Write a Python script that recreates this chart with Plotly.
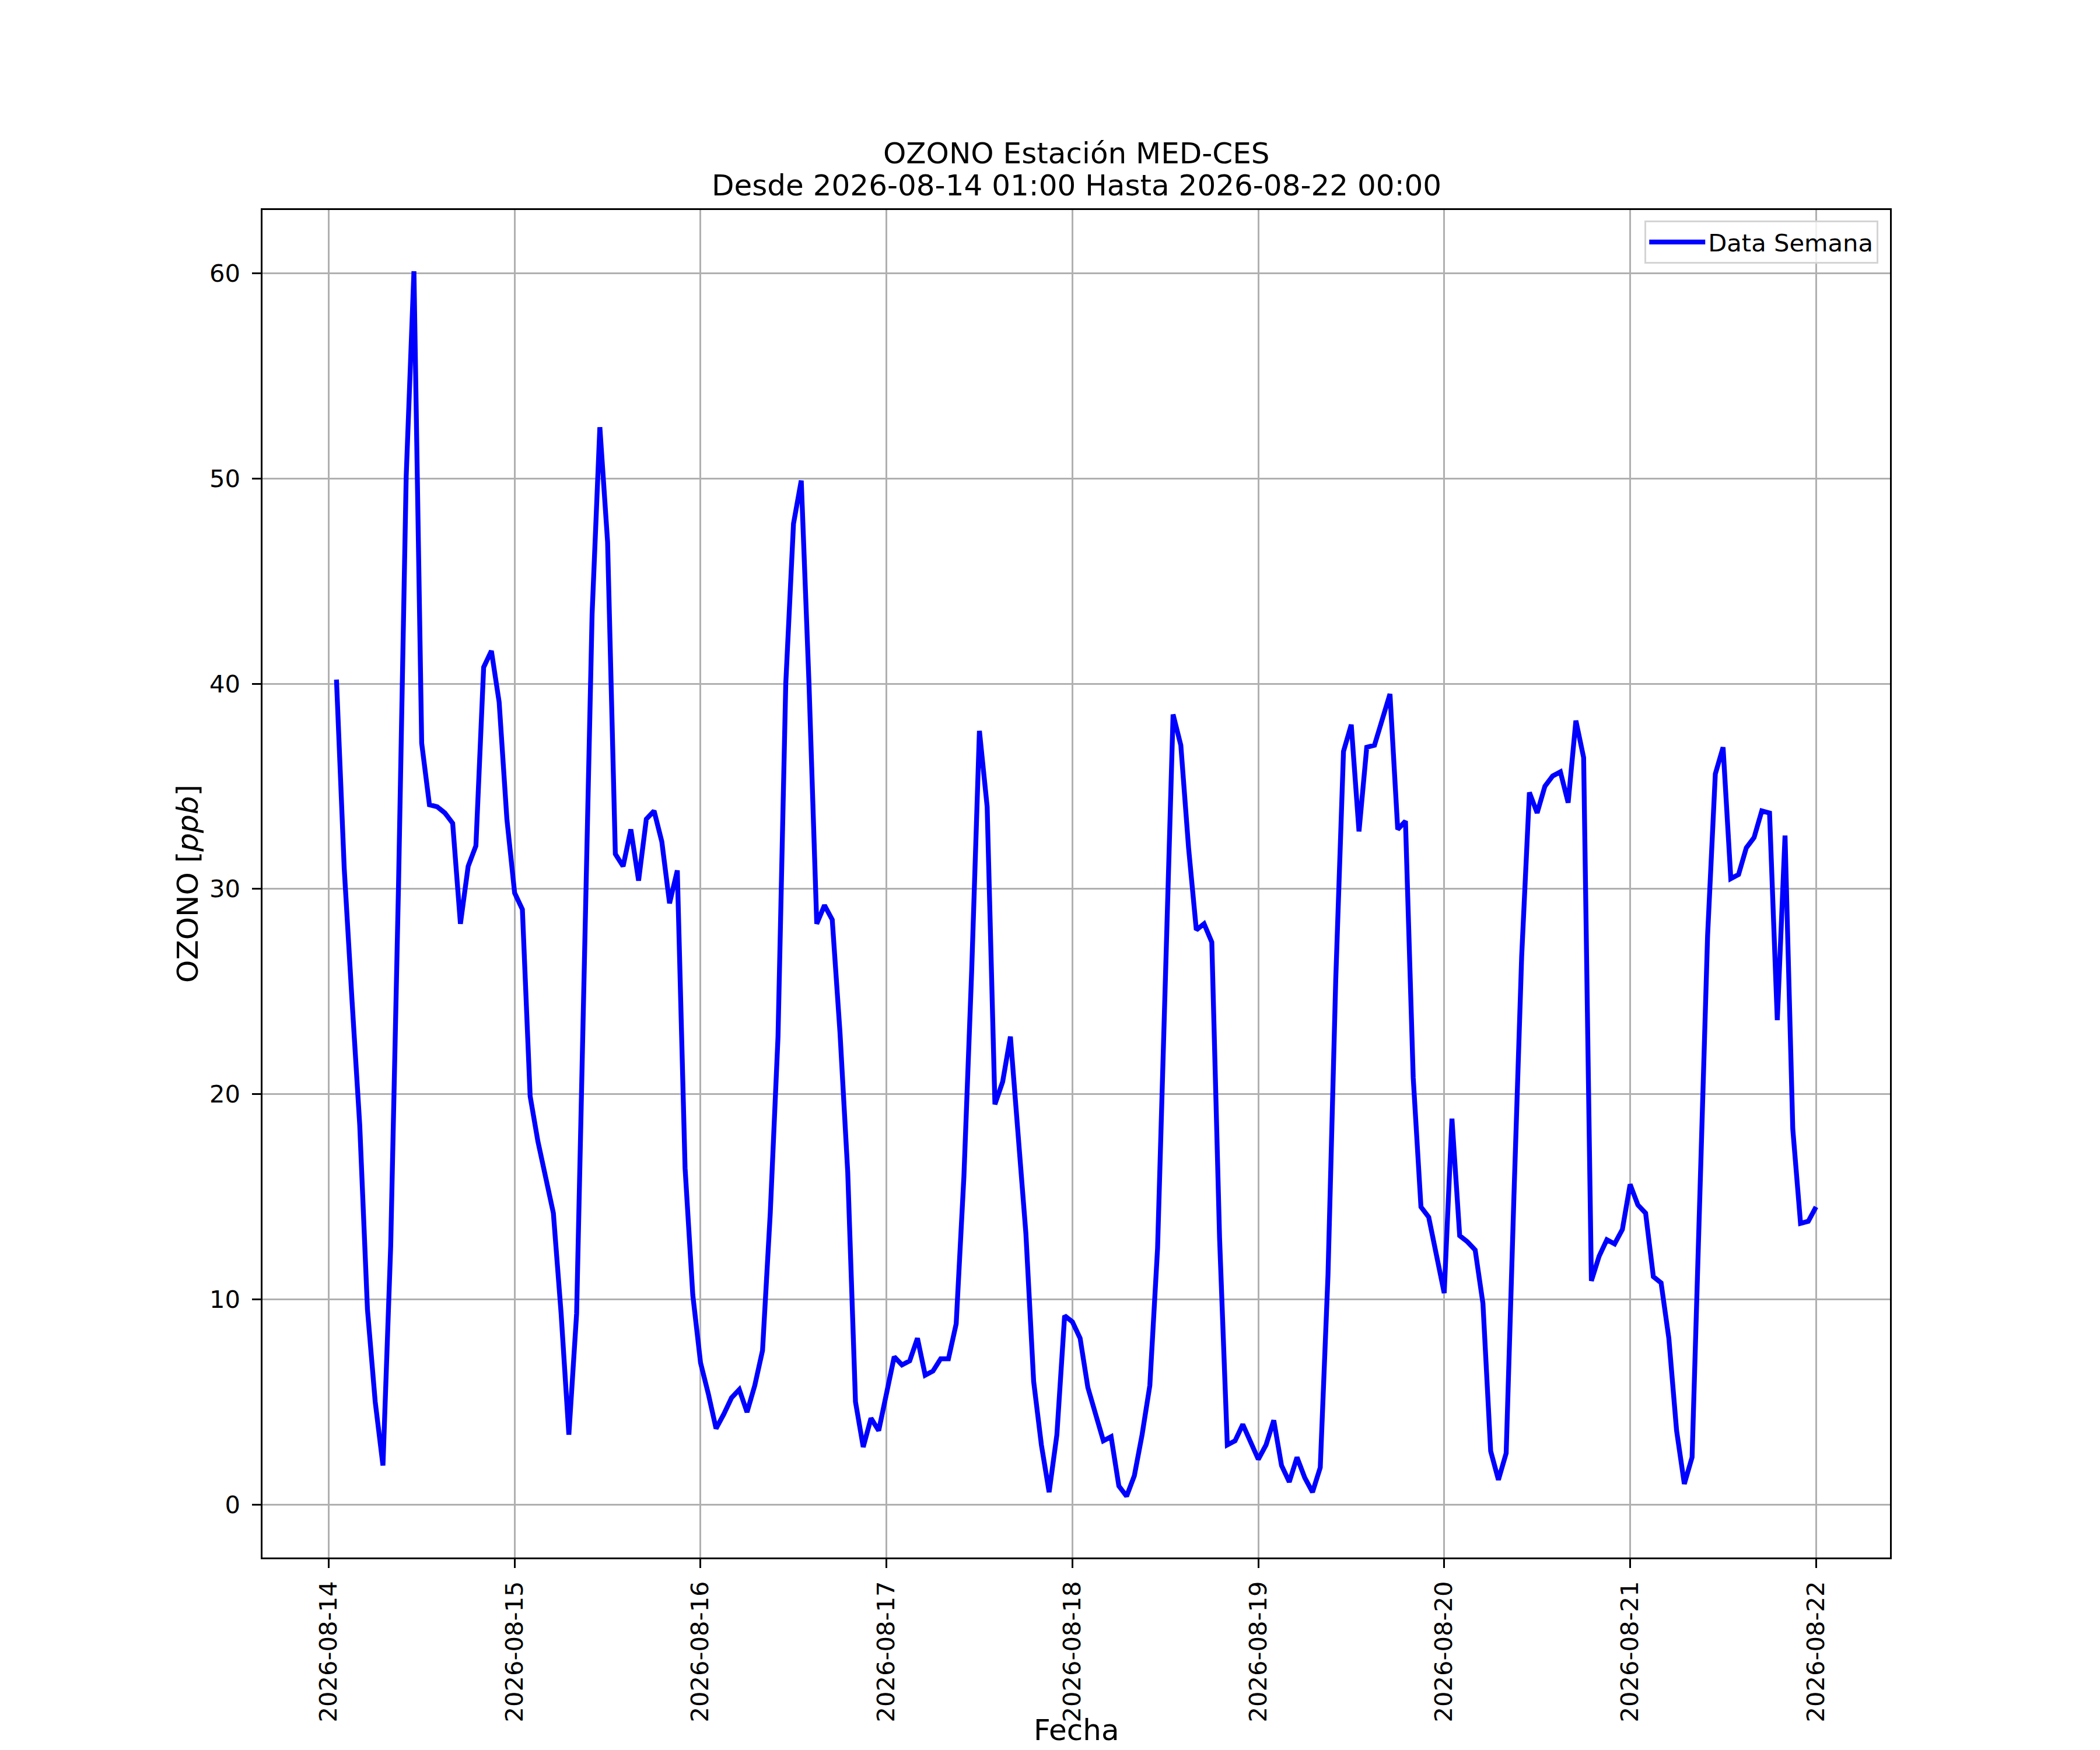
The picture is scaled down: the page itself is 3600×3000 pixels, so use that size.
import numpy as np
import pandas as pd
import plotly.graph_objects as go

# ---- data (hourly ozone, ppb) ----
start_time = "2026-08-14 01:00"
end_time = "2026-08-22 00:00"
day_14 = [40.2, 31.0, 24.6, 18.5, 9.5, 5.0, 1.9, 12.6, 30.0, 50.1, 60.1, 37.1,
          34.1, 34.0, 33.7, 33.2, 28.3, 31.1, 32.1, 40.8, 41.6, 39.1, 33.4, 29.8]
day_15 = [29.0, 19.9, 17.7, 16.0, 14.2, 9.3, 3.4, 9.3, 27.0, 43.4, 52.5, 46.9,
          31.7, 31.1, 32.9, 30.4, 33.4, 33.8, 32.3, 29.3, 30.9, 16.4, 10.2, 6.9]
day_16 = [5.4, 3.7, 4.4, 5.2, 5.6, 4.5, 5.8, 7.5, 14.2, 22.8, 40.0, 47.8,
          49.9, 40.0, 28.3, 29.2, 28.5, 23.0, 16.2, 5.0, 2.8, 4.2, 3.6, 5.4]
day_17 = [7.2, 6.8, 7.0, 8.1, 6.3, 6.5, 7.1, 7.1, 8.8, 16.0, 26.0, 37.7,
          34.0, 19.5, 20.6, 22.8, 17.9, 13.2, 6.0, 2.9, 0.6, 3.4, 9.2, 8.9]
day_18 = [8.1, 5.7, 4.4, 3.1, 3.3, 0.9, 0.4, 1.4, 3.4, 5.8, 12.5, 25.5,
          38.5, 37.0, 32.0, 28.0, 28.3, 27.4, 13.0, 2.9, 3.1, 3.9, 3.0, 2.2]
day_19 = [2.9, 4.1, 1.9, 1.1, 2.3, 1.3, 0.6, 1.8, 11.2, 25.6, 36.7, 38.0,
          32.8, 36.9, 37.0, 38.3, 39.5, 32.9, 33.3, 20.8, 14.5, 14.0, 12.1, 10.3]
day_20 = [18.8, 13.1, 12.8, 12.4, 9.8, 2.6, 1.2, 2.5, 15.0, 26.7, 34.7, 33.7,
          35.0, 35.5, 35.7, 34.2, 38.2, 36.4, 10.9, 12.1, 12.9, 12.7, 13.4, 15.6]
day_21 = [14.6, 14.2, 11.1, 10.8, 8.1, 3.6, 1.0, 2.3, 15.0, 27.7, 35.6, 36.9,
          30.5, 30.7, 32.0, 32.5, 33.8, 33.7, 23.6, 32.6, 18.3, 13.7, 13.8, 14.5]
tick_dates = ["2026-08-14", "2026-08-15", "2026-08-16", "2026-08-17", "2026-08-18",
              "2026-08-19", "2026-08-20", "2026-08-21", "2026-08-22"]
title_line1 = "OZONO Estación MED-CES"
title_line2 = "Desde 2026-08-14 01:00 Hasta 2026-08-22 00:00"
x_label = "Fecha"
y_label = "OZONO [<i>ppb</i>]"

ozone = day_14 + day_15 + day_16 + day_17 + day_18 + day_19 + day_20 + day_21
times = pd.date_range(start_time, end_time, freq="h")

# matplotlib-like 5% autoscale margins
t0, t1 = times[0], times[-1]
dt = (t1 - t0) * 0.05
xr = [t0 - dt, t1 + dt]
ymin, ymax = min(ozone), max(ozone)
dy = (ymax - ymin) * 0.05
yr = [ymin - dy, ymax + dy]

FONT = "DejaVu Sans"
PT = 300 / 72.0
PLOT_H = 2310.0

fig = go.Figure()
fig.add_trace(go.Scatter(x=times, y=ozone, mode="lines", name="Data Semana",
                         line=dict(color="#0000ff", width=2 * PT)))

axis_common = dict(
    showline=True, linecolor="black", linewidth=0.8 * PT, mirror=True,
    ticks="outside", ticklen=3.5 * PT, tickwidth=0.8 * PT, tickcolor="black",
    showgrid=True, gridcolor="#b0b0b0", gridwidth=0.8 * PT, zeroline=False,
    automargin=False,
    tickfont=dict(family=FONT, size=10 * PT, color="black"),
)

# page body has an 8px default margin; the figure is offset by it
fig.update_layout(
    width=3584, height=2992, autosize=False,
    margin=dict(l=442, r=352, t=352, b=330, pad=0),
    paper_bgcolor="white", plot_bgcolor="white",
    font=dict(family=FONT, color="black"),
    xaxis=dict(
        axis_common, type="date", range=xr,
        tickvals=tick_dates, ticktext=tick_dates, tickangle=-90,
        ticklabelstandoff=6,
    ),
    yaxis=dict(
        axis_common, range=yr, dtick=10, tick0=0,
        ticklabelstandoff=12,
        title=dict(text=y_label, standoff=4,
                   font=dict(family=FONT, size=12 * PT, color="black")),
    ),
    showlegend=True,
    legend=dict(
        x=0.9928, xanchor="right", y=1 - 18 / PLOT_H, yanchor="top",
        bgcolor="rgba(255,255,255,0.8)", bordercolor="#d4d4d4",
        borderwidth=0.8 * PT, itemwidth=96,
        font=dict(family=FONT, size=10 * PT, color="black"),
    ),
    annotations=[
        dict(text=title_line1, xref="paper", yref="paper", x=0.5, y=1 + 97 / PLOT_H,
             xanchor="center", yanchor="middle", showarrow=False,
             font=dict(family=FONT, size=12 * PT, color="black")),
        dict(text=title_line2, xref="paper", yref="paper", x=0.5, y=1 + 42 / PLOT_H,
             xanchor="center", yanchor="middle", showarrow=False,
             font=dict(family=FONT, size=12 * PT, color="black")),
        dict(text=x_label, xref="paper", yref="paper", x=0.5, y=-296 / PLOT_H,
             xanchor="center", yanchor="middle", showarrow=False,
             font=dict(family=FONT, size=12 * PT, color="black")),
    ],
)

fig.write_html("out.html")
